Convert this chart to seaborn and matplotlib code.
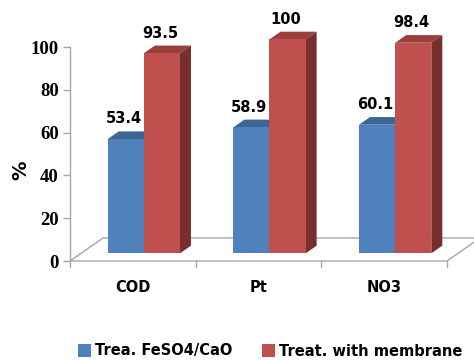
import matplotlib
matplotlib.use("Agg")
import matplotlib.pyplot as plt
from matplotlib.patches import Polygon, Patch
import numpy as np
import pandas as pd
import seaborn as sns

# Removal efficiency (%) per parameter and treatment
categories = ["COD", "Pt", "NO3"]
series_names = ["Trea. FeSO4/CaO", "Treat. with membrane"]
fe_values = [53.4, 58.9, 60.1]
membrane_values = [93.5, 100, 98.4]
y_ticks = [0, 20, 40, 60, 80, 100]

front_colors = ["#4F81BD", "#C0504D"]
top_colors = ["#3D6696", "#9A3F3C"]
side_colors = ["#3A5F8C", "#772F2D"]
grey = "#A6A6A6"

df = pd.DataFrame({
    "param": categories * 2,
    "series": [series_names[0]] * 3 + [series_names[1]] * 3,
    "value": fe_values + membrane_values,
})

sns.set_theme(style="white")
plt.rcParams["font.family"] = ["DejaVu Sans"]
plt.rcParams["text.color"] = "black"
plt.rcParams["axes.labelcolor"] = "black"
plt.rcParams["xtick.labelcolor"] = "black"
plt.rcParams["ytick.labelcolor"] = "black"

W, H = 474, 360
fig = plt.figure(figsize=(W / 100, H / 100), dpi=100)
ax = fig.add_axes([70 / W, 99 / H, 377 / W, 214 / H])

sns.barplot(data=df, x="param", y="value", hue="series", order=categories,
            hue_order=series_names, palette=front_colors, width=0.575,
            saturation=1, legend=False, ax=ax, linewidth=0)
ax.set_xlim(-0.5, 2.5)
ax.set_ylim(0, 100)
fig.canvas.draw()

# oblique depth vector of the floor, in pixels
DX, DY = 33.0, 23.0
to_disp = ax.transData.transform
to_data = ax.transData.inverted().transform


def poly_px(pts_px, **kw):
    pts = to_data(np.asarray(pts_px, dtype=float))
    p = Polygon(pts, closed=True, clip_on=False, **kw)
    ax.add_patch(p)
    return p


# floor of the 3-D box
x0d, y0d = to_disp((-0.5, 0))
x1d, _ = to_disp((2.5, 0))
poly_px([(x0d, y0d), (x1d, y0d), (x1d + DX, y0d + DY), (x0d + DX, y0d + DY)],
        facecolor="white", edgecolor=grey, linewidth=1.0, zorder=0.5)

# extrude every bar: front face at 1/3 depth, back face at 2/3 depth
fx, fy = DX / 3, DY / 3
bx, by = 2 * DX / 3, 2 * DY / 3
bars = sorted(ax.patches[:6], key=lambda p: p.get_x())
for i, p in enumerate(bars):
    col = p.get_facecolor()
    idx = 0 if abs(col[2] - 0xBD / 255) < 0.02 else 1
    xl, xr = p.get_x(), p.get_x() + p.get_width()
    pxl, pyb = to_disp((xl, 0))
    pxr, pyt = to_disp((xr, p.get_height()))
    z = 2 + i
    pxl, pxr = pxl + fx, pxr + fx
    pyb, pyt = pyb + fy, pyt + fy
    ddx, ddy = bx - fx, by - fy
    # top face
    poly_px([(pxl, pyt), (pxr, pyt), (pxr + ddx, pyt + ddy), (pxl + ddx, pyt + ddy)],
            facecolor=top_colors[idx], edgecolor="none", zorder=z)
    # right side face
    poly_px([(pxr, pyb), (pxr, pyt), (pxr + ddx, pyt + ddy), (pxr + ddx, pyb + ddy)],
            facecolor=side_colors[idx], edgecolor="none", zorder=z)
    # front face
    poly_px([(pxl, pyb), (pxr, pyb), (pxr, pyt), (pxl, pyt)],
            facecolor=front_colors[idx], edgecolor="none", zorder=z + 0.5)
    p.set_visible(False)
    # value label above the bar
    lab = f"{p.get_height():g}"
    lx, ly = to_data(((pxl + pxr) / 2 - 2, pyt + ddy + 5))
    ax.text(lx, ly, lab, ha="center", va="bottom", fontsize=10.5,
            fontweight="bold", color="black", clip_on=False, zorder=20)

# axes styling
for s in ["top", "right", "bottom"]:
    ax.spines[s].set_visible(False)
ax.spines["left"].set_color(grey)
ax.spines["left"].set_linewidth(1.0)
ax.set_yticks(y_ticks)
ax.set_yticklabels([str(t) for t in y_ticks], fontfamily="Liberation Serif",
                   fontsize=13.5, fontweight="bold")
ax.tick_params(axis="y", left=True, length=5, color=grey, width=1, pad=3)
ax.set_xticks([0, 1, 2])
ax.set_xticklabels(categories, fontsize=10.5, fontweight="bold")
ax.tick_params(axis="x", bottom=False, pad=8)
for xb in [-0.5, 0.5, 1.5, 2.5]:
    ax.plot([xb, xb], [0, -3], color=grey, linewidth=1, clip_on=False, zorder=1)
ax.set_xlabel("")
ax.set_ylabel("%", fontsize=14, fontweight="bold")
ax.yaxis.set_label_coords(-40 / 377, 0.425)
ax.patch.set_alpha(0)

# legend
handles = [Patch(facecolor=c, edgecolor="none") for c in front_colors]
fig.legend(handles, series_names, loc="center", bbox_to_anchor=(0.57, 0.025),
           ncol=2, frameon=False, handlelength=0.9, handleheight=0.9,
           handletextpad=0.3, columnspacing=2.0, prop={"weight": "bold", "size": 10.5})

fig.savefig("out.png", dpi=100)
